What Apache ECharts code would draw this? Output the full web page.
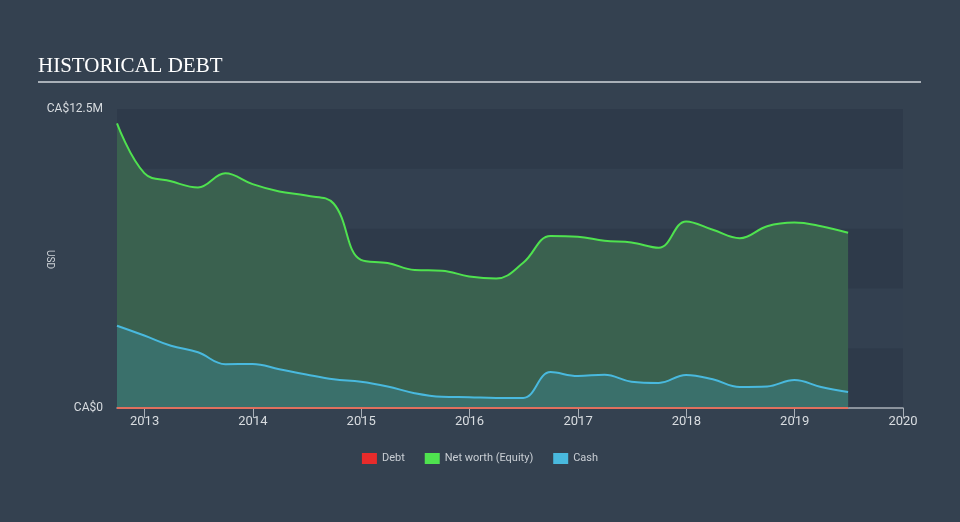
<!DOCTYPE html>
<html>
<head>
<meta charset="utf-8">
<title>Historical Debt</title>
<script src="https://cdn.jsdelivr.net/npm/echarts@6/dist/echarts.min.js"></script>
<style>
  html, body { margin: 0; padding: 0; background: #344150; }
  #chart { width: 960px; height: 522px; }
</style>
</head>
<body>
<div id="chart"></div>
<script>
// quarter-end dates
const dates = [
  "2012-09-30", "2012-12-31", "2013-03-31", "2013-06-30", "2013-09-30", "2013-12-31",
  "2014-03-31", "2014-06-30", "2014-09-30", "2014-12-31", "2015-03-31", "2015-06-30",
  "2015-09-30", "2015-12-31", "2016-03-31", "2016-06-30", "2016-09-30", "2016-12-31",
  "2017-03-31", "2017-06-30", "2017-09-30", "2017-12-31", "2018-03-31", "2018-06-30",
  "2018-09-30", "2018-12-31", "2019-03-31", "2019-06-30"
];
// values in CA$ millions
const debt = [0, 0, 0, 0, 0, 0, 0, 0, 0, 0, 0, 0, 0, 0, 0, 0, 0, 0, 0, 0, 0, 0, 0, 0, 0, 0, 0, 0];
const netWorth = [
  11.9, 9.82, 9.48, 9.22, 9.81, 9.36,
  9.05, 8.88, 8.55, 6.19, 6.06, 5.77,
  5.74, 5.5, 5.41, 6.07, 7.19, 7.16,
  6.99, 6.92, 6.7, 7.8, 7.45, 7.1,
  7.6, 7.75, 7.6, 7.33
];
const cash = [
  3.44, 3.03, 2.6, 2.33, 1.83, 1.84,
  1.62, 1.4, 1.2, 1.1, 0.9, 0.62,
  0.47, 0.45, 0.42, 0.42, 1.5, 1.34,
  1.39, 1.1, 1.05, 1.38, 1.2, 0.88,
  0.9, 1.17, 0.88, 0.67
];
const yTickLabels = { 0: "CA$0", 12.5: "CA$12.5M" };

const pair = (arr) => arr.map((v, i) => [dates[i], v]);

const chart = echarts.init(document.getElementById("chart"));
chart.setOption({
  backgroundColor: "#344150",
  animation: false,
  textStyle: { fontFamily: "Roboto, 'Noto Sans', sans-serif" },
  graphic: [
    {
      type: "text",
      left: 38,
      top: 56,
      style: {
        text: "HISTORICAL DEBT",
        fill: "#ffffff",
        font: "21px 'Liberation Serif', serif"
      }
    },
    {
      type: "line",
      shape: { x1: 38, y1: 82, x2: 921, y2: 82 },
      style: { stroke: "#a9b0b8", lineWidth: 2 }
    },
    {
      type: "text",
      left: 44,
      top: 250,
      rotation: -Math.PI / 2,
      style: { text: "USD", fill: "#cfd3d8", font: "10px Roboto, sans-serif" }
    }
  ],
  grid: { left: 117, right: 57, top: 109, bottom: 114 },
  legend: {
    bottom: 53,
    left: "center",
    itemWidth: 15,
    itemHeight: 11,
    itemGap: 20,
    icon: "rect",
    textStyle: { color: "#c9ced4", fontSize: 11 },
    data: ["Debt", "Net worth (Equity)", "Cash"]
  },
  xAxis: {
    type: "time",
    min: "2012-09-30",
    max: "2020-01-01",
    minInterval: 365 * 24 * 3600 * 1000,
    splitNumber: 7,
    axisLine: { lineStyle: { color: "#a9b0b8", width: 1.5 } },
    axisTick: { show: true, inside: false, length: 10, lineStyle: { color: "#a9b0b8" } },
    axisLabel: {
      color: "#d8dce0",
      fontSize: 13,
      margin: 7,
      showMinLabel: false,
      showMaxLabel: true,
      formatter: "{yyyy}",
      rich: {}
    },
    splitLine: { show: false }
  },
  yAxis: {
    type: "value",
    min: 0,
    max: 12.5,
    interval: 2.5,
    axisLine: { show: false },
    axisTick: { show: false },
    axisLabel: {
      color: "#d8dce0",
      fontSize: 12,
      margin: 14,
      formatter: (v) => yTickLabels[v] || ""
    },
    splitLine: { show: false },
    splitArea: {
      show: true,
      areaStyle: { color: ["#2e3a4a", "#334050"] }
    }
  },
  series: [
    {
      name: "Debt",
      type: "line",
      data: pair(debt),
      smooth: 0.4,
      showSymbol: false,
      z: 5,
      lineStyle: { color: "#e0705e", width: 2 },
      itemStyle: { color: "#e82b2b" }
    },
    {
      name: "Net worth (Equity)",
      type: "line",
      data: pair(netWorth),
      smooth: 0.4,
      showSymbol: false,
      z: 2,
      lineStyle: { color: "#4fe24f", width: 2 },
      itemStyle: { color: "#4fe24f" },
      areaStyle: { color: "#3a614f", opacity: 1 }
    },
    {
      name: "Cash",
      type: "line",
      data: pair(cash),
      smooth: 0.4,
      showSymbol: false,
      z: 3,
      lineStyle: { color: "#49b9de", width: 2 },
      itemStyle: { color: "#49b9de" },
      areaStyle: { color: "#3a706b", opacity: 1 }
    }
  ]
});
</script>
</body>
</html>
